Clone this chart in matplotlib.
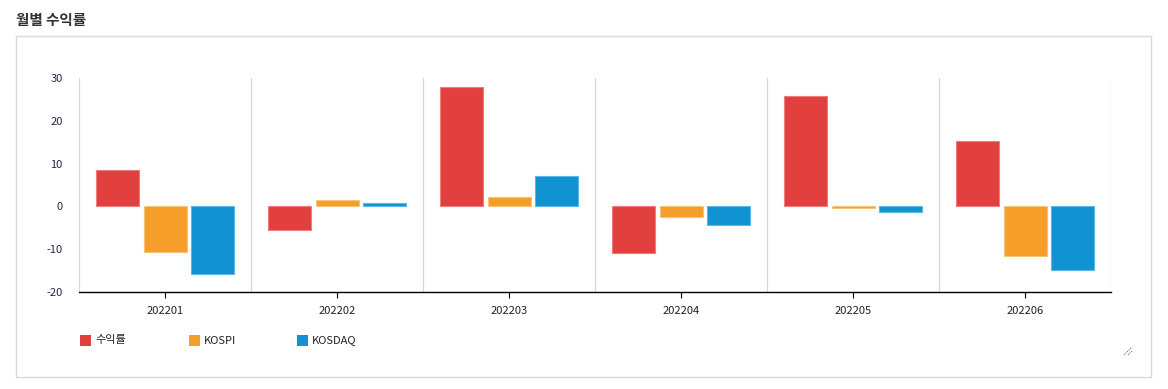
import matplotlib
matplotlib.use("Agg")
import matplotlib.pyplot as plt
from matplotlib.patches import Rectangle
from matplotlib.lines import Line2D
import numpy as np

plt.rcParams['font.family'] = ['Noto Sans CJK KR', 'DejaVu Sans']

months = ["202201", "202202", "202203", "202204", "202205", "202206"]
series_names = ["수익률", "KOSPI", "KOSDAQ"]
returns = [8.4, -5.4, 28.0, -10.8, 25.9, 15.2]
kospi = [-10.6, 1.4, 2.1, -2.4, -0.3, -11.5]
kosdaq = [-15.7, 0.9, 7.2, -4.3, -1.2, -14.8]
yticks = [-20, -10, 0, 10, 20, 30]

colors = ["#E23F3F", "#F59E29", "#1093D0"]
edges = ["#F07B7B", "#F8C47A", "#5BB7E3"]

W, H = 1168, 389
fig = plt.figure(figsize=(W / 100, H / 100), dpi=100)

# panel border
fig.patches.append(Rectangle((16 / W, 1 - 377 / H), (1151 - 16) / W, (377 - 36) / H,
                             transform=fig.transFigure, fill=False,
                             edgecolor="#D9D9D9", linewidth=1.0))
fig.text(16 / W, 1 - 20 / H, "월별 수익률", fontsize=10.5, fontweight="bold",
         color="#333333", va="center", ha="left")

ax = fig.add_axes([79.3 / W, 1 - 292 / H, (1111 - 79.3) / W, (292 - 78) / H])
x = np.arange(len(months))
offsets = [-0.276, 0.0, 0.276]
width = 0.25
for vals, off, c, ec in zip([returns, kospi, kosdaq], offsets, colors, edges):
    ax.bar(x + off, vals, width=width, color=c, edgecolor=ec, linewidth=0.8, zorder=3)

ax.set_xlim(-0.5, len(months) - 0.5)
ax.set_ylim(-20, 30)
ax.set_yticks(yticks)
ax.set_yticklabels([str(v) for v in yticks])
ax.set_xticks(x)
ax.set_xticklabels(months)
for b in np.arange(-0.5, len(months), 1.0):
    ax.axvline(b, color="#D6D6D6", linewidth=0.9, zorder=1)
for s in ["top", "right", "left"]:
    ax.spines[s].set_visible(False)
ax.spines["bottom"].set_color("#000000")
ax.spines["bottom"].set_linewidth(1.0)
ax.tick_params(axis="y", length=0, pad=12, labelsize=8, labelcolor="#1F2A44")
ax.tick_params(axis="x", length=4, width=0.8, pad=6, labelsize=8, labelcolor="#222222")

# legend
legend_items = [(80, series_names[0]), (189, series_names[1]), (297, series_names[2])]
for (lx, name), c in zip(legend_items, colors):
    fig.patches.append(Rectangle((lx / W, 1 - 346 / H), 11 / W, 11 / H,
                                 transform=fig.transFigure, facecolor=c, edgecolor="none"))
    fig.text((lx + 15) / W, 1 - 340.5 / H, name, fontsize=8, color="#222222",
             va="center", ha="left")

# resize handle
for d in [0, 4]:
    fig.lines.append(Line2D([(1124 + d) / W, (1132) / W], [1 - 355 / H, 1 - (347 + d) / H],
                            transform=fig.transFigure, color="#777777",
                            linewidth=0.8, linestyle=(0, (1, 1))))

fig.savefig("out.png", dpi=100)
